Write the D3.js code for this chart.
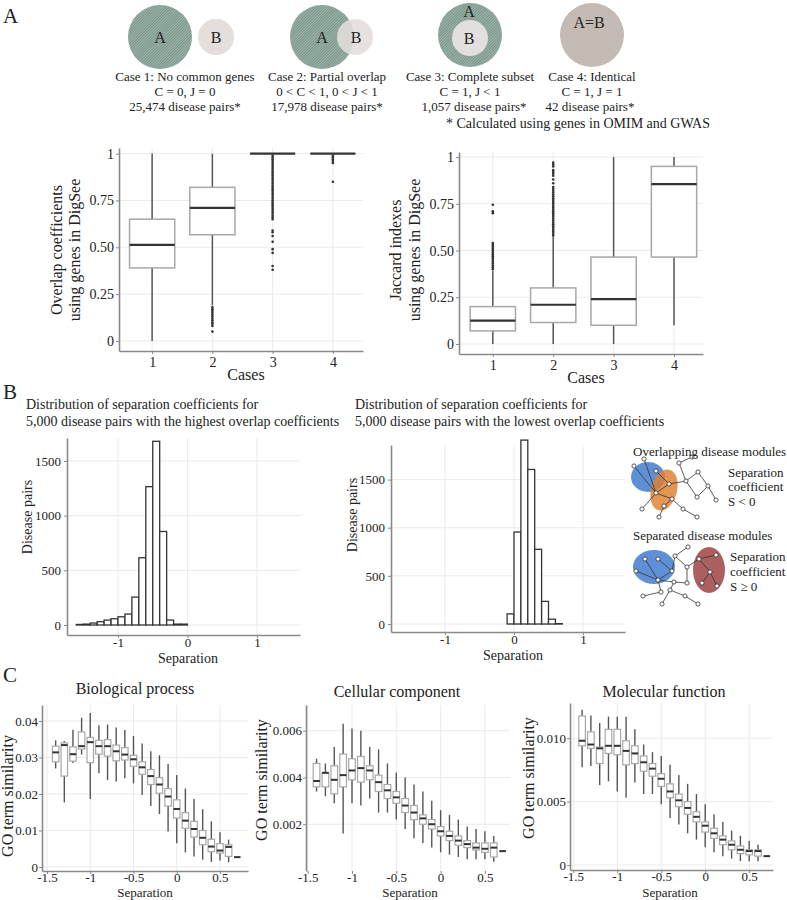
<!DOCTYPE html>
<html><head><meta charset="utf-8">
<script src="https://cdn.jsdelivr.net/npm/d3@7"></script>
<style>
body{margin:0;background:#fff}
svg{display:block}
text{font-family:"Liberation Serif","Times New Roman",serif;fill:#222}
</style>
</head><body><svg id="c" width="787" height="900"></svg>
<script>
// ---------------- DATA ----------------
const caseLabels = [1, 2, 3, 4];
// [lower whisker, Q1, median, Q3, upper whisker]
const overlapBox = [
  [0.00, 0.39, 0.513, 0.65, 1.00],
  [0.19, 0.567, 0.71, 0.82, 1.00],
  [1.00, 1.00, 1.00, 1.00, 1.00],
  [1.00, 1.00, 1.00, 1.00, 1.00]
];
const overlapOutliers = [
  [],
  [0.05, 0.08, 0.09, 0.10, 0.11, 0.12, 0.13, 0.14, 0.15, 0.16, 0.17, 0.18],
  [0.38, 0.40, 0.47, 0.49, 0.53, 0.56, 0.58, 0.59, 0.65, 0.66, 0.67, 0.68, 0.69, 0.70, 0.71, 0.72, 0.73, 0.74, 0.75, 0.76, 0.77, 0.78, 0.79, 0.80, 0.81, 0.82, 0.83, 0.84, 0.85, 0.86, 0.87, 0.88, 0.89, 0.90, 0.91, 0.92, 0.93, 0.94, 0.95, 0.96, 0.97, 0.98, 0.99],
  [0.85, 0.95, 0.96, 0.97, 0.98, 0.99]
];
const jaccardBox = [
  [0.00, 0.07, 0.125, 0.20, 0.39],
  [0.00, 0.115, 0.21, 0.30, 0.575],
  [0.00, 0.10, 0.24, 0.465, 1.00],
  [0.10, 0.465, 0.855, 0.95, 1.00]
];
const jaccardOutliers = [
  [0.40, 0.41, 0.42, 0.43, 0.44, 0.45, 0.46, 0.47, 0.48, 0.49, 0.50, 0.51, 0.52, 0.53, 0.54, 0.70, 0.71, 0.745],
  [0.58, 0.59, 0.60, 0.61, 0.62, 0.63, 0.64, 0.65, 0.66, 0.67, 0.68, 0.69, 0.70, 0.71, 0.72, 0.73, 0.74, 0.75, 0.76, 0.77, 0.78, 0.79, 0.80, 0.81, 0.82, 0.83, 0.84, 0.86, 0.88, 0.90, 0.91, 0.92, 0.93, 0.95, 0.96, 0.97],
  [],
  []
];
const caseTicks = [0, 0.25, 0.5, 0.75, 1];

// Histograms of separation coefficients
const histBinWidth = 0.1;
const highBins = [-1.6, -1.5, -1.4, -1.3, -1.2, -1.1, -1.0, -0.9, -0.8, -0.7, -0.6, -0.5, -0.4, -0.3, -0.2, -0.1];
const highCounts = [5, 8, 18, 30, 45, 57, 75, 100, 255, 615, 1265, 1680, 855, 45, 8, 8];
const lowBins = [-0.1, 0.0, 0.1, 0.2, 0.3, 0.4, 0.5, 0.6];
const lowCounts = [105, 955, 1910, 1605, 776, 235, 50, 4];
const histXTicks = [-1, 0, 1];
const histYTicks = [0, 500, 1000, 1500];

// GO term similarity boxplots
const sepPositions = [-1.4, -1.3, -1.2, -1.1, -1.0, -0.9, -0.8, -0.7, -0.6, -0.5, -0.4, -0.3, -0.2, -0.1, 0.0, 0.1, 0.2, 0.3, 0.4, 0.5, 0.6, 0.7];
const bpLo  = [0.0270, 0.0177, 0.0285, 0.0308, 0.0186, 0.0257, 0.0238, 0.0234, 0.0243, 0.0229, 0.0197, 0.0167, 0.0145, 0.0097, 0.0065, 0.0040, 0.0029, 0.0020, 0.0014, 0.0018, 0.0013, 0.0027];
const bpQ1  = [0.0288, 0.0249, 0.0290, 0.0323, 0.0286, 0.0309, 0.0304, 0.0291, 0.0293, 0.0276, 0.0254, 0.0226, 0.0202, 0.0167, 0.0134, 0.0106, 0.0082, 0.0061, 0.0042, 0.0038, 0.0029, 0.0027];
const bpMed = [0.0314, 0.0334, 0.0309, 0.0331, 0.0342, 0.0331, 0.0331, 0.0317, 0.0308, 0.0295, 0.0273, 0.0249, 0.0226, 0.0193, 0.0159, 0.0127, 0.0104, 0.0080, 0.0056, 0.0045, 0.0055, 0.0027];
const bpQ3  = [0.0331, 0.0340, 0.0329, 0.0370, 0.0355, 0.0347, 0.0349, 0.0334, 0.0327, 0.0306, 0.0288, 0.0267, 0.0245, 0.0215, 0.0184, 0.0149, 0.0125, 0.0100, 0.0076, 0.0064, 0.0061, 0.0027];
const bpHi  = [0.0347, 0.0345, 0.0376, 0.0409, 0.0422, 0.0388, 0.0390, 0.0382, 0.0375, 0.0359, 0.0338, 0.0317, 0.0306, 0.0282, 0.0252, 0.0215, 0.0186, 0.0158, 0.0125, 0.0095, 0.0075, 0.0027];

const ccLo  = [0.0034, 0.0032, 0.0029, 0.0016, 0.0029, 0.0028, 0.0031, 0.0025, 0.0025, 0.0022, 0.0018, 0.0014, 0.0012, 0.0010, 0.0008, 0.0007, 0.0006, 0.0005, 0.0005, 0.0005, 0.0004, 0.00085];
const ccQ1  = [0.0036, 0.0036, 0.0033, 0.0036, 0.0039, 0.0038, 0.0039, 0.0034, 0.0031, 0.0029, 0.0025, 0.0022, 0.0020, 0.0018, 0.0015, 0.0013, 0.0011, 0.0010, 0.0009, 0.0008, 0.0006, 0.00085];
const ccMed = [0.00385, 0.0042, 0.0039, 0.0041, 0.0043, 0.0044, 0.0043, 0.0038, 0.00345, 0.00315, 0.0028, 0.0025, 0.00225, 0.0020, 0.0017, 0.0015, 0.0013, 0.00115, 0.0010, 0.00095, 0.0010, 0.00085];
const ccQ3  = [0.0046, 0.0042, 0.0045, 0.0050, 0.0048, 0.0049, 0.0045, 0.0041, 0.0037, 0.0034, 0.0031, 0.0028, 0.0024, 0.0022, 0.0019, 0.0017, 0.0015, 0.0013, 0.0012, 0.0012, 0.0012, 0.00085];
const ccHi  = [0.0048, 0.0046, 0.0053, 0.0063, 0.0061, 0.0060, 0.0053, 0.0052, 0.0046, 0.0042, 0.0040, 0.0037, 0.0034, 0.0030, 0.0026, 0.0024, 0.0022, 0.0019, 0.0018, 0.0017, 0.0015, 0.00085];

const mfLo  = [0.0077, 0.0078, 0.0063, 0.0066, 0.0058, 0.0053, 0.0065, 0.0056, 0.0056, 0.0048, 0.0037, 0.0032, 0.0025, 0.0020, 0.0014, 0.0010, 0.0007, 0.0005, 0.0003, 0.0003, 0.0003, 0.0007];
const mfQ1  = [0.0094, 0.0092, 0.0080, 0.0088, 0.0087, 0.0079, 0.0080, 0.0074, 0.0070, 0.0062, 0.0053, 0.0046, 0.0040, 0.0034, 0.0026, 0.0021, 0.0016, 0.0012, 0.0009, 0.0008, 0.0007, 0.0007];
const mfMed = [0.0098, 0.0095, 0.0092, 0.0094, 0.0094, 0.0090, 0.0088, 0.0081, 0.0076, 0.0068, 0.0058, 0.0051, 0.0045, 0.0038, 0.0031, 0.0025, 0.0020, 0.0016, 0.0012, 0.0011, 0.0011, 0.0007];
const mfQ3  = [0.01175, 0.0105, 0.0093, 0.0107, 0.0107, 0.0098, 0.0094, 0.0086, 0.0080, 0.0072, 0.0064, 0.0056, 0.0050, 0.0042, 0.0034, 0.0029, 0.0023, 0.0019, 0.0015, 0.0012, 0.0012, 0.0007];
const mfHi  = [0.01225, 0.0118, 0.0112, 0.0117, 0.0117, 0.0117, 0.0107, 0.0095, 0.0089, 0.0086, 0.0079, 0.0071, 0.0064, 0.0056, 0.0048, 0.0040, 0.0034, 0.0027, 0.0023, 0.0019, 0.0016, 0.0007];

const sepTicks = [-1.5, -1, -0.5, 0, 0.5];

// Venn captions
const vennCaptions = [
  ["Case 1: No common genes", "C = 0, J = 0", "25,474 disease pairs*"],
  ["Case 2: Partial overlap", "0 < C < 1, 0 < J < 1", "17,978 disease pairs*"],
  ["Case 3: Complete subset", "C = 1, J < 1", "1,057 disease pairs*"],
  ["Case 4: Identical", "C = 1, J = 1", "42 disease pairs*"]
];

// ---------------- DRAWING ----------------
const svg = d3.select("#c");
svg.append("rect").attr("width", 787).attr("height", 900).attr("fill", "#fff");
const defs = svg.append("defs");
const pat = defs.append("pattern").attr("id", "hatch").attr("patternUnits", "userSpaceOnUse")
  .attr("width", 2).attr("height", 2).attr("patternTransform", "rotate(45)");
pat.append("rect").attr("width", 2).attr("height", 2).attr("fill", "#a0b5aa");
pat.append("line").attr("x1", 0.5).attr("y1", 0).attr("x2", 0.5).attr("y2", 2).attr("stroke", "#78958a").attr("stroke-width", 1);
const pat2 = defs.append("pattern").attr("id", "hatch2").attr("patternUnits", "userSpaceOnUse")
  .attr("width", 2).attr("height", 2).attr("patternTransform", "rotate(45)");
pat2.append("rect").attr("width", 2).attr("height", 2).attr("fill", "#c9c1ba");
pat2.append("line").attr("x1", 0.5).attr("y1", 0).attr("x2", 0.5).attr("y2", 2).attr("stroke", "#bdb4ad").attr("stroke-width", 1);

function txt(x, y, s, size, anchor, rot) {
  const t = svg.append("text").attr("x", x).attr("y", y).attr("font-size", size)
    .attr("text-anchor", anchor || "start").text(s);
  if (rot) t.attr("transform", `rotate(${rot},${x},${y})`);
  return t;
}
const fmtNum = d => String(d).replace("\u2212", "-");

function drawFrame(xs, ys, o) {
  const g = svg.append("g");
  const [x0, x1] = xs.range(), [y0, y1] = ys.range();
  g.selectAll(null).data(o.yGrid).join("line")
    .attr("x1", x0).attr("x2", x1).attr("y1", d => ys(d)).attr("y2", d => ys(d))
    .attr("stroke", "#ebebeb").attr("stroke-width", 1);
  g.selectAll(null).data(o.xGrid).join("line")
    .attr("y1", y0).attr("y2", y1).attr("x1", d => xs(d)).attr("x2", d => xs(d))
    .attr("stroke", "#ebebeb").attr("stroke-width", 1);
  const ax = svg.append("g").attr("transform", `translate(0,${y0})`)
    .call(d3.axisBottom(xs).tickValues(o.xTicks).tickFormat(o.xFmt).tickSize(3).tickSizeOuter(0).tickPadding(o.xPad === undefined ? 3 : o.xPad));
  const ay = svg.append("g").attr("transform", `translate(${x0},0)`)
    .call(d3.axisLeft(ys).tickValues(o.yTicks).tickFormat(o.yFmt).tickSize(3).tickSizeOuter(0).tickPadding(o.yPad === undefined ? 2 : o.yPad));
  [ax, ay].forEach(a => {
    a.attr("font-family", null).attr("font-size", null);
    a.select(".domain").attr("stroke", "#8a8a8a").attr("stroke-width", 1.6);
    a.selectAll(".tick line").attr("stroke", "#8a8a8a").attr("stroke-width", 1);
    a.selectAll(".tick text").attr("font-size", o.fs || 14).attr("fill", "#333");
  });
  if (o.noXLine) ax.select(".domain").remove();
  return g;
}

function drawBoxes(xs, ys, pos, lo, q1, med, q3, hi, wUnits, opts) {
  const g = svg.append("g");
  const hw = (xs(wUnits) - xs(0)) / 2;
  pos.forEach((p, i) => {
    const cx = xs(p);
    g.append("line").attr("x1", cx).attr("x2", cx).attr("y1", ys(hi[i])).attr("y2", ys(q3[i]))
      .attr("stroke", "#555").attr("stroke-width", opts.ws);
    g.append("line").attr("x1", cx).attr("x2", cx).attr("y1", ys(q1[i])).attr("y2", ys(lo[i]))
      .attr("stroke", "#555").attr("stroke-width", opts.ws);
    g.append("rect").attr("x", cx - hw).attr("width", 2 * hw)
      .attr("y", ys(q3[i])).attr("height", Math.max(0, ys(q1[i]) - ys(q3[i])))
      .attr("fill", "#fff").attr("stroke", "#a8a8a8").attr("stroke-width", opts.bs);
    g.append("line").attr("x1", cx - hw).attr("x2", cx + hw).attr("y1", ys(med[i])).attr("y2", ys(med[i]))
      .attr("stroke", "#333").attr("stroke-width", opts.ms);
  });
  return g;
}

// ---- Panel labels
txt(3, 23, "A", 21);
txt(3, 399, "B", 21);
txt(3, 682, "C", 21);

// ---- Venn diagrams
const vg = svg.append("g");
vg.append("circle").attr("cx", 160).attr("cy", 37).attr("r", 32).attr("fill", "url(#hatch)");
vg.append("circle").attr("cx", 216).attr("cy", 37).attr("r", 18).attr("fill", "#e4dedc");
vg.append("circle").attr("cx", 322).attr("cy", 37).attr("r", 32).attr("fill", "url(#hatch)");
vg.append("circle").attr("cx", 355).attr("cy", 37).attr("r", 18).attr("fill", "#e4dedc").attr("fill-opacity", 0.88);
vg.append("circle").attr("cx", 470).attr("cy", 35).attr("r", 32).attr("fill", "url(#hatch)");
vg.append("circle").attr("cx", 470).attr("cy", 38).attr("r", 18).attr("fill", "#e2dfdc");
vg.append("circle").attr("cx", 592).attr("cy", 35).attr("r", 32).attr("fill", "url(#hatch2)");
txt(160, 43, "A", 16, "middle"); txt(216, 43, "B", 16, "middle");
txt(322, 43, "A", 16, "middle"); txt(356, 43, "B", 16, "middle");
txt(469, 17, "A", 16, "middle"); txt(469, 44, "B", 16, "middle");
txt(589, 28, "A=B", 16, "middle");
const capX = [185, 327, 470, 592];
vennCaptions.forEach((c, i) => {
  txt(capX[i], 81, c[0], 13, "middle");
  txt(capX[i], 96, c[1], 13, "middle");
  txt(capX[i] + (i === 2 ? 4 : (i === 3 ? -2 : 0)), 111, c[2], 13, "middle");
});
txt(578, 128, "* Calculated using genes in OMIM and GWAS", 14, "middle");

// ---- Panel A left: overlap coefficients
const boxYFmt = d => d === 0 ? "0" : d === 1 ? "1" : d3.format(".2f")(d);
{
  const xs = d3.scaleLinear().domain([0.45, 4.5]).range([119, 363]);
  const ys = d3.scaleLinear().domain([-0.0535, 1.03]).range([351, 148]);
  drawFrame(xs, ys, { yGrid: caseTicks, xGrid: caseLabels, xTicks: caseLabels, yTicks: caseTicks, xFmt: d => d, yFmt: boxYFmt });
  drawBoxes(xs, ys, caseLabels, overlapBox.map(d => d[0]), overlapBox.map(d => d[1]), overlapBox.map(d => d[2]),
    overlapBox.map(d => d[3]), overlapBox.map(d => d[4]), 0.75, { ws: 1.5, bs: 1.5, ms: 2.2 });
  overlapOutliers.forEach((arr, i) => {
    svg.append("g").selectAll(null).data(arr).join("circle")
      .attr("cx", xs(caseLabels[i])).attr("cy", d => ys(d)).attr("r", 1.3).attr("fill", "#333");
  });
  txt(246, 380, "Cases", 16, "middle");
  txt(62, 250, "Overlap coefficients", 16, "middle", -90);
  txt(80, 250, "using genes in DigSee", 16, "middle", -90);
}

// ---- Panel A right: Jaccard indexes
{
  const xs = d3.scaleLinear().domain([0.44, 4.48]).range([459, 703]);
  const ys = d3.scaleLinear().domain([-0.0535, 1.027]).range([354, 152]);
  drawFrame(xs, ys, { yGrid: caseTicks, xGrid: caseLabels, xTicks: caseLabels, yTicks: caseTicks, xFmt: d => d, yFmt: boxYFmt });
  drawBoxes(xs, ys, caseLabels, jaccardBox.map(d => d[0]), jaccardBox.map(d => d[1]), jaccardBox.map(d => d[2]),
    jaccardBox.map(d => d[3]), jaccardBox.map(d => d[4]), 0.75, { ws: 1.5, bs: 1.5, ms: 2.2 });
  jaccardOutliers.forEach((arr, i) => {
    svg.append("g").selectAll(null).data(arr).join("circle")
      .attr("cx", xs(caseLabels[i])).attr("cy", d => ys(d)).attr("r", 1.3).attr("fill", "#333");
  });
  txt(586, 383, "Cases", 16, "middle");
  txt(401, 250, "Jaccard indexes", 16, "middle", -90);
  txt(420, 250, "using genes in DigSee", 16, "middle", -90);
}

// ---- Panel B histograms
function drawHist(xs, ys, bins, counts) {
  drawFrame(xs, ys, { yGrid: histYTicks, xGrid: histXTicks, xTicks: histXTicks, yTicks: histYTicks, xFmt: fmtNum, yFmt: d3.format("d"), yPad: 3, xPad: 0, fs: 13 });
  svg.append("g").selectAll(null).data(bins).join("rect")
    .attr("x", d => xs(d)).attr("width", d => xs(d + histBinWidth) - xs(d))
    .attr("y", (d, i) => ys(counts[i])).attr("height", (d, i) => ys(0) - ys(counts[i]))
    .attr("fill", "#fff").attr("stroke", "#333").attr("stroke-width", 1.3);
}
{
  const xs = d3.scaleLinear().domain([-1.734, 1.619]).range([67, 300]);
  const ys = d3.scaleLinear().domain([-91.5, 1710]).range([635, 438]);
  drawHist(xs, ys, highBins, highCounts);
  txt(26, 409, "Distribution of separation coefficients for", 14);
  txt(26, 426, "5,000 disease pairs with the highest overlap coefficients", 14);
  txt(188, 663, "Separation", 14, "middle");
  txt(32, 517, "Disease pairs", 14, "middle", -90);
}
{
  const xs = d3.scaleLinear().domain([-1.783, 1.609]).range([391, 625]);
  const ys = d3.scaleLinear().domain([-83, 1859]).range([632, 445]);
  drawHist(xs, ys, lowBins, lowCounts);
  txt(355, 409, "Distribution of separation coefficients for", 14);
  txt(355, 426, "5,000 disease pairs with the lowest overlap coefficients", 14);
  txt(513, 660, "Separation", 14, "middle");
  txt(357, 515, "Disease pairs", 14, "middle", -90);
}

// ---- Schematic networks
const overlapNodes = [[634,466],[644,459],[656,471],[669,484],[656,493],[672,499],[686,481],[698,472],[708,486],[716,500],[697,497],[683,509],[697,517],[642,509],[659,517],[679,463],[692,457],[664,506]];
const overlapEdges = [[1,4],[0,4],[2,3],[3,4],[4,5],[3,6],[6,15],[15,16],[6,10],[6,7],[7,8],[8,9],[10,8],[5,11],[11,12],[4,13],[5,17],[17,14]];
const sepNodes = [[636,571],[645,559],[658,559],[672,571],[658,580],[675,556],[688,547],[687,567],[699,559],[716,555],[710,572],[702,583],[717,586],[687,583],[674,582],[661,592],[643,596],[670,590],[662,604],[685,596],[698,604]];
const sepEdges = [[1,4],[2,3],[0,4],[3,4],[3,5],[5,6],[5,7],[7,8],[8,9],[8,10],[10,11],[10,12],[7,13],[4,14],[14,13],[4,15],[15,16],[14,17],[17,18],[17,19],[19,20]];
function drawNet(nodes, edges) {
  const g = svg.append("g");
  g.selectAll(null).data(edges).join("line")
    .attr("x1", d => nodes[d[0]][0]).attr("y1", d => nodes[d[0]][1])
    .attr("x2", d => nodes[d[1]][0]).attr("y2", d => nodes[d[1]][1])
    .attr("stroke", "#333").attr("stroke-width", 0.8);
  g.selectAll(null).data(nodes).join("circle")
    .attr("cx", d => d[0]).attr("cy", d => d[1]).attr("r", 2.1)
    .attr("fill", "#fff").attr("stroke", "#333").attr("stroke-width", 0.8);
}
svg.append("ellipse").attr("cx", 648).attr("cy", 477).attr("rx", 17).attr("ry", 15).attr("fill", "#5f90d6");
svg.append("ellipse").attr("cx", 664).attr("cy", 490).attr("rx", 13).attr("ry", 21)
  .attr("transform", "rotate(15,664,490)").attr("fill", "#de7f2e").attr("fill-opacity", 0.82);
drawNet(overlapNodes, overlapEdges);
svg.append("ellipse").attr("cx", 654).attr("cy", 567).attr("rx", 21).attr("ry", 17).attr("fill", "#5f90d6");
svg.append("ellipse").attr("cx", 709).attr("cy", 570).attr("rx", 16).attr("ry", 23).attr("fill", "#a34e4e").attr("fill-opacity", 0.9);
drawNet(sepNodes, sepEdges);
txt(633, 456, "Overlapping disease modules", 13);
txt(728, 477, "Separation", 13); txt(728, 491, "coefficient", 13); txt(728, 506, "S < 0", 13);
txt(633, 540, "Separated disease modules", 13);
txt(730, 561, "Separation", 13); txt(730, 576, "coefficient", 13); txt(730, 591, "S \u2265 0", 13);

// ---- Panel C
const sepFmt = d => String(d).replace("\u2212", "-");
{
  const xs = d3.scaleLinear().domain([-1.558, 0.824]).range([42, 248]);
  const ys = d3.scaleLinear().domain([-0.0011, 0.04438]).range([871, 705]);
  const yT = [0, 0.01, 0.02, 0.03, 0.04];
  drawFrame(xs, ys, { yGrid: yT, xGrid: sepTicks, xTicks: sepTicks, yTicks: yT, xFmt: sepFmt, yFmt: d => d === 0 ? "0" : String(d), yPad: 1, xPad: -1, fs: 13 });
  drawBoxes(xs, ys, sepPositions, bpLo, bpQ1, bpMed, bpQ3, bpHi, 0.075, { ws: 1.4, bs: 1.2, ms: 2 });
  txt(135, 694, "Biological process", 16, "middle");
  txt(145, 897, "Separation", 13, "middle");
  txt(13, 796, "GO term similarity", 16, "middle", -90);
}
{
  const xs = d3.scaleLinear().domain([-1.519, 0.783]).range([306, 510]);
  const ys = d3.scaleLinear().domain([0, 0.0071]).range([871, 705]);
  const yT = [0.002, 0.004, 0.006];
  drawFrame(xs, ys, { yGrid: yT, xGrid: sepTicks, xTicks: sepTicks, yTicks: yT, xFmt: sepFmt, yFmt: d => d3.format(".3f")(d), yPad: 1, xPad: -1, fs: 13, noXLine: true });
  drawBoxes(xs, ys, sepPositions, ccLo, ccQ1, ccMed, ccQ3, ccHi, 0.075, { ws: 1.4, bs: 1.2, ms: 2 });
  txt(397, 697, "Cellular component", 16, "middle");
  txt(410, 897, "Separation", 13, "middle");
  txt(267, 780, "GO term similarity", 16, "middle", -90);
}
{
  const xs = d3.scaleLinear().domain([-1.5375, 0.7705]).range([570, 773]);
  const ys = d3.scaleLinear().domain([-0.000394, 0.012776]).range([870, 703]);
  const yT = [0, 0.005, 0.010];
  drawFrame(xs, ys, { yGrid: yT, xGrid: sepTicks, xTicks: sepTicks, yTicks: yT, xFmt: sepFmt, yFmt: d => d === 0 ? "0" : d3.format(".3f")(d), yPad: 1, xPad: -1, fs: 13 });
  drawBoxes(xs, ys, sepPositions, mfLo, mfQ1, mfMed, mfQ3, mfHi, 0.075, { ws: 1.4, bs: 1.2, ms: 2 });
  txt(664, 697, "Molecular function", 16, "middle");
  txt(670, 897, "Separation", 13, "middle");
  txt(534, 778, "GO term similarity", 16, "middle", -90);
}
</script>
</body></html>
